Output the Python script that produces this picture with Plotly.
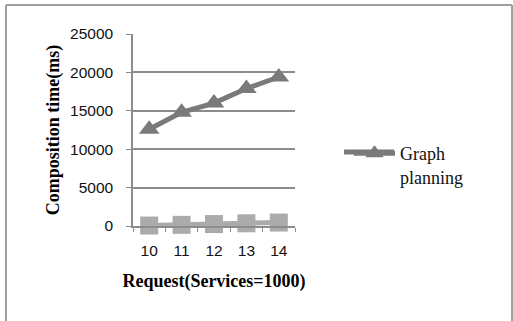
import plotly.graph_objects as go

# Request counts (services = 1000) and composition times in ms
requests = ["10", "11", "12", "13", "14"]
graph_planning = [12600, 14800, 16000, 17900, 19400]
other_method = [60, 150, 250, 350, 450]
y_ticks = [0, 5000, 10000, 15000, 20000, 25000]
y_tick_text = [str(v) for v in y_ticks]

W, H = 513, 321
L, R, T, B = 133, 218, 34, 95
pw, ph = W - L - R, H - T - B

def px_x(x):
    return (x - L) / pw

def px_y(y):
    return 1 - (y - T) / ph

fig = go.Figure()

fig.add_trace(go.Scatter(
    x=requests, y=other_method, mode="lines+markers",
    line=dict(color="#ababab", width=5),
    marker=dict(symbol="square", size=18, color="#ababab"),
    showlegend=False, cliponaxis=False,
))

fig.add_trace(go.Scatter(
    x=requests, y=graph_planning, mode="lines+markers",
    name="Graph<br>planning",
    line=dict(color="#7a7a7a", width=5),
    marker=dict(symbol="triangle-up", size=18, color="#7a7a7a"),
    cliponaxis=False,
))

axis_grey = "#8c8c8c"
tick_font = dict(family="Liberation Sans", size=15.5, color="#111")
title_font = dict(family="Liberation Serif", size=18, color="#000")

fig.update_xaxes(
    type="category", range=[-0.5, 4.5],
    showline=True, linecolor=axis_grey, linewidth=1.5,
    ticks="outside", tickson="boundaries", ticklen=4, tickcolor=axis_grey,
    ticklabelstandoff=10,
    showgrid=False, zeroline=False, tickfont=tick_font,
    title=dict(text="<b>Request(Services=1000)</b>", font=title_font, standoff=16),
)

fig.update_yaxes(
    range=[0, 25000], tickvals=y_ticks, ticktext=y_tick_text,
    showline=True, linecolor=axis_grey, linewidth=1.5,
    ticks="outside", ticklen=5, tickcolor=axis_grey,
    ticklabelstandoff=10,
    showgrid=True, gridcolor=axis_grey, gridwidth=1.5, zeroline=False,
    tickfont=tick_font,
    title=dict(text="<b>Composition time(ms)</b>", font=title_font, standoff=6),
)

# Outer chart frame (left, top and right edges)
frame = dict(type="line", xref="paper", yref="paper",
             line=dict(color="#a0a0a0", width=2))
fig.add_shape(**frame, x0=px_x(6), x1=px_x(6), y0=px_y(5), y1=px_y(H + 5))
fig.add_shape(**frame, x0=px_x(6), x1=px_x(512), y0=px_y(5), y1=px_y(5))
fig.add_shape(**frame, x0=px_x(512), x1=px_x(512), y0=px_y(5), y1=px_y(H + 5))

# Longer legend swatch line drawn behind the legend symbol
fig.add_shape(type="line", xref="paper", yref="paper", layer="below",
              x0=px_x(344), x1=px_x(394), y0=px_y(152), y1=px_y(152),
              line=dict(color="#7a7a7a", width=5))

fig.update_layout(
    width=W, height=H,
    margin=dict(l=L, r=R, t=T, b=B),
    paper_bgcolor="white", plot_bgcolor="white",
    legend=dict(x=px_x(349), y=px_y(135), xanchor="left", yanchor="top",
                valign="top", itemwidth=41,
                font=dict(family="Liberation Serif", size=18, color="#111"),
                bgcolor="rgba(0,0,0,0)"),
)

fig.write_html("out.html")
